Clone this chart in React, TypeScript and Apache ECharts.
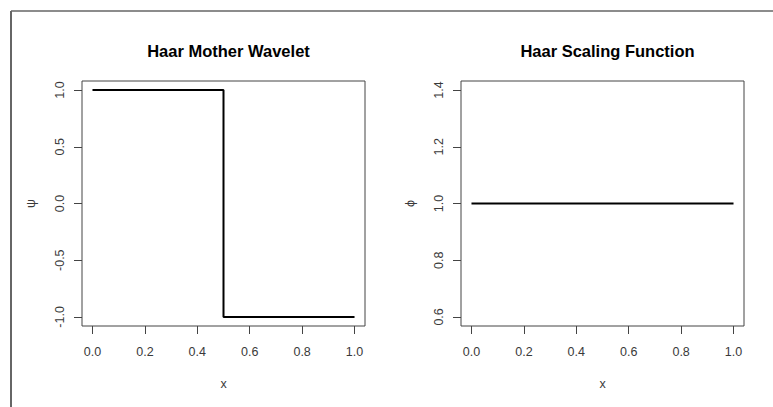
import React, { useEffect, useRef } from "react";
import * as echarts from "echarts";

// Data
const psiX = [0, 0.5, 0.5, 1];
const psiY = [1, 1, -1, -1];
const phiX = [0, 1];
const phiY = [1, 1];
const xTicks = [0, 0.2, 0.4, 0.6, 0.8, 1.0];
const psiTicks = [-1.0, -0.5, 0.0, 0.5, 1.0];
const phiTicks = [0.6, 0.8, 1.0, 1.2, 1.4];
const titles = ["Haar Mother Wavelet", "Haar Scaling Function"];
const yNames = ["ψ", "ϕ"];
const xName = "x";

const FONT = "'Liberation Sans', Arial, Helvetica, sans-serif";
const LABEL_COLOR = "#3a3a3a";
const BOX_COLOR = "#444";

function pad(lo: number, hi: number) {
  const d = (hi - lo) * 0.04;
  return [lo - d, hi + d];
}

export default function App() {
  const ref = useRef<HTMLDivElement>(null);
  useEffect(() => {
    document.body.style.margin = "0";
    const chart = echarts.init(ref.current!, undefined, { renderer: "svg" });
    const xr = pad(0, 1);
    const y1 = pad(-1, 1);
    const y2 = pad(0.6, 1.4);
    const grids = [
      { left: 82, top: 81, width: 283, height: 245 },
      { left: 461, top: 81, width: 283, height: 245 },
    ];
    const fmt = (v: number) => (Math.abs(v) < 1e-9 ? 0 : v).toFixed(1);
    const mkX = (i: number) => ({
      type: "value",
      gridIndex: i,
      min: xr[0],
      max: xr[1],
      splitLine: { show: false },
      axisLine: { show: false, onZero: false },
      axisTick: {
        show: true,
        inside: false,
        length: 8,
        customValues: xTicks,
        lineStyle: { color: BOX_COLOR, width: 1 },
      },
      axisLabel: {
        customValues: xTicks,
        formatter: fmt,
        margin: 19,
        color: LABEL_COLOR,
        fontSize: 12.5,
        fontFamily: FONT,
      },
      name: xName,
      nameLocation: "middle",
      nameGap: 51,
      nameTextStyle: { color: LABEL_COLOR, fontSize: 12.5, fontFamily: FONT },
    });
    const mkY = (i: number, r: number[], ticks: number[]) => ({
      type: "value",
      gridIndex: i,
      min: r[0],
      max: r[1],
      splitLine: { show: false },
      axisLine: { show: false, onZero: false },
      axisTick: {
        show: true,
        inside: false,
        length: 8,
        customValues: ticks,
        lineStyle: { color: BOX_COLOR, width: 1 },
      },
      axisLabel: {
        customValues: ticks,
        formatter: fmt,
        rotate: 90,
        margin: 16,
        color: LABEL_COLOR,
        fontSize: 12.5,
        fontFamily: FONT,
      },
      name: yNames[i],
      nameLocation: "middle",
      nameGap: 45,
      nameTextStyle: { color: LABEL_COLOR, fontSize: 12.5, fontFamily: FONT },
    });
    chart.setOption({
      animation: false,
      backgroundColor: "#fff",
      title: grids.map((g, i) => ({
        text: titles[i],
        left: g.left + g.width / 2,
        top: 37,
        textAlign: "center",
        textStyle: {
          fontSize: 16.5,
          fontWeight: "bold",
          color: "#000",
          fontFamily: FONT,
        },
      })),
      grid: grids.map((g) => ({
        ...g,
        show: true,
        borderColor: BOX_COLOR,
        borderWidth: 1,
        backgroundColor: "transparent",
        containLabel: false,
      })),
      xAxis: [mkX(0), mkX(1)],
      yAxis: [mkY(0, y1, psiTicks), mkY(1, y2, phiTicks)],
      series: [
        {
          type: "line",
          xAxisIndex: 0,
          yAxisIndex: 0,
          data: psiX.map((x, k) => [x, psiY[k]]),
          showSymbol: false,
          symbol: "none",
          lineStyle: { color: "#000", width: 2 },
          clip: false,
        },
        {
          type: "line",
          xAxisIndex: 1,
          yAxisIndex: 1,
          data: phiX.map((x, k) => [x, phiY[k]]),
          showSymbol: false,
          symbol: "none",
          lineStyle: { color: "#000", width: 2 },
          clip: false,
        },
      ],
      graphic: [
        {
          type: "line",
          shape: { x1: 11, y1: 11, x2: 11, y2: 407 },
          style: { stroke: "#666", lineWidth: 2 },
        },
        {
          type: "line",
          shape: { x1: 11, y1: 11, x2: 773, y2: 11 },
          style: { stroke: "#666", lineWidth: 1.5 },
        },
      ],
    });
    return () => chart.dispose();
  }, []);
  return <div ref={ref} style={{ width: 773, height: 407 }} />;
}
